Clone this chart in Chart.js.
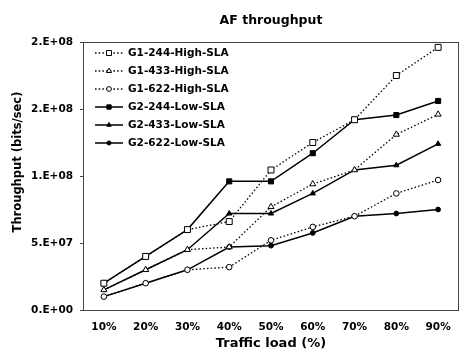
<!DOCTYPE html>
<html>
<head>
<meta charset="utf-8">
<script src="https://cdn.jsdelivr.net/npm/chart.js@4"></script>
<style>
  html, body { margin: 0; padding: 0; background: #fff; }
  #wrap { width: 461px; height: 356px; }
</style>
</head>
<body>
<div id="wrap"><canvas id="myChart" width="461" height="356"></canvas></div>
<script>
// data
const loads = ['10%', '20%', '30%', '40%', '50%', '60%', '70%', '80%', '90%'];
const g1_244 = [2.0e7, 4.0e7, 6.0e7, 6.6e7, 1.045e8, 1.25e8, 1.42e8, 1.75e8, 1.96e8];
const g1_433 = [1.5e7, 3.0e7, 4.5e7, 4.7e7, 7.7e7, 9.4e7, 1.045e8, 1.31e8, 1.46e8];
const g1_622 = [1.0e7, 2.0e7, 3.0e7, 3.2e7, 5.2e7, 6.2e7, 7.0e7, 8.7e7, 9.7e7];
const g2_244 = [2.0e7, 4.0e7, 6.0e7, 9.6e7, 9.6e7, 1.17e8, 1.42e8, 1.455e8, 1.56e8];
const g2_433 = [1.5e7, 3.0e7, 4.5e7, 7.2e7, 7.2e7, 8.7e7, 1.045e8, 1.08e8, 1.24e8];
const g2_622 = [1.0e7, 2.0e7, 3.0e7, 4.7e7, 4.8e7, 5.75e7, 7.0e7, 7.2e7, 7.5e7];
const yTickLabels = ['0.E+00', '5.E+07', '1.E+08', '2.E+08', '2.E+08'];

const FONT = 'DejaVu Sans';

function serie(label, data, style, dotted, filled, r) {
    return {
        label: label,
        data: data,
        borderColor: '#000',
        backgroundColor: filled ? '#000' : '#fff',
        borderWidth: dotted ? 1.3 : 1.5,
        borderDash: dotted ? [1.5, 2.2] : [],
        pointStyle: style,
        pointRadius: r,
        pointBorderWidth: 1,
        pointBorderColor: '#000',
        pointBackgroundColor: filled ? '#000' : '#fff',
        tension: 0
    };
}

// frame around plot, y title, legend inside the plot
const framePlugin = {
    id: 'frame',
    afterDatasetsDraw(chart) {
        const ctx = chart.ctx;
        const a = chart.chartArea;
        ctx.save();
        ctx.strokeStyle = '#444';
        ctx.lineWidth = 1;
        ctx.strokeRect(a.left + 0.5, a.top + 0.5, a.right - a.left - 1, a.bottom - a.top);

        // y axis title (sits a bit above the plot middle in the original)
        ctx.save();
        ctx.translate(18, 162);
        ctx.rotate(-Math.PI / 2);
        ctx.font = 'bold 11.5px ' + FONT;
        ctx.textAlign = 'center';
        ctx.textBaseline = 'middle';
        ctx.fillStyle = '#000';
        ctx.fillText('Throughput (bits/sec)', 0, 0);
        ctx.restore();

        ctx.font = 'bold 10.5px ' + FONT;
        ctx.textBaseline = 'middle';
        ctx.fillStyle = '#000';
        chart.data.datasets.forEach((ds, i) => {
            const y = 53 + i * 18;
            ctx.save();
            ctx.strokeStyle = '#000';
            ctx.lineWidth = ds.borderWidth;
            ctx.setLineDash(ds.borderDash);
            ctx.beginPath();
            ctx.moveTo(95, y);
            ctx.lineTo(123, y);
            ctx.stroke();
            ctx.setLineDash([]);
            ctx.fillStyle = ds.pointBackgroundColor;
            ctx.strokeStyle = '#000';
            ctx.lineWidth = 1;
            Chart.helpers.drawPoint(ctx, {pointStyle: ds.pointStyle, radius: ds.pointRadius * 0.85, borderWidth: 1, rotation: 0}, 109, y);
            ctx.restore();
            ctx.fillStyle = '#000';
            ctx.fillText(ds.label, 128, y);
        });
        ctx.restore();
    }
};

const ctx = document.getElementById('myChart').getContext('2d');
const myChart = new Chart(ctx, {
    type: 'line',
    data: {
        labels: loads,
        datasets: [
            serie('G1-244-High-SLA', g1_244, 'rect', true, false, 4.2),
            serie('G1-433-High-SLA', g1_433, 'triangle', true, false, 3.5),
            serie('G1-622-High-SLA', g1_622, 'circle', true, false, 2.8),
            serie('G2-244-Low-SLA', g2_244, 'rect', false, true, 3.6),
            serie('G2-433-Low-SLA', g2_433, 'triangle', false, true, 3),
            serie('G2-622-Low-SLA', g2_622, 'circle', false, true, 2.4)
        ]
    },
    plugins: [framePlugin],
    options: {
        responsive: false,
        animation: false,
        layout: { autoPadding: false, padding: { left: 0, right: 2, top: 0, bottom: 0 } },
        plugins: {
            legend: { display: false },
            tooltip: { enabled: false },
            title: {
                display: true,
                text: 'AF throughput',
                fullSize: false,
                color: '#000',
                font: { family: FONT, size: 12.5, weight: 'bold' },
                padding: { top: 13, bottom: 14 }
            }
        },
        scales: {
            x: {
                offset: true,
                afterFit: s => { s.height = 46; },
                grid: { drawOnChartArea: false, drawTicks: true, tickLength: 9, color: 'rgba(0,0,0,0)' },
                border: { display: false },
                ticks: {
                    color: '#000',
                    padding: 2,
                    maxRotation: 0,
                    font: { family: FONT, size: 10.5, weight: 'bold' }
                },
                title: {
                    display: true,
                    text: 'Traffic load (%)',
                    color: '#000',
                    font: { family: FONT, size: 13, weight: 'bold' },
                    padding: { top: 0, bottom: 5 }
                }
            },
            y: {
                min: 0,
                max: 2e8,
                afterFit: s => { s.width = 83; },
                grid: { drawOnChartArea: false, drawTicks: true, tickLength: 3, color: '#444' },
                border: { display: false },
                ticks: {
                    stepSize: 5e7,
                    color: '#000',
                    padding: 7,
                    font: { family: FONT, size: 10.5, weight: 'bold' },
                    callback: (v, i) => yTickLabels[i]
                },
                title: { display: false }
            }
        }
    }
});
</script>
</body>
</html>
